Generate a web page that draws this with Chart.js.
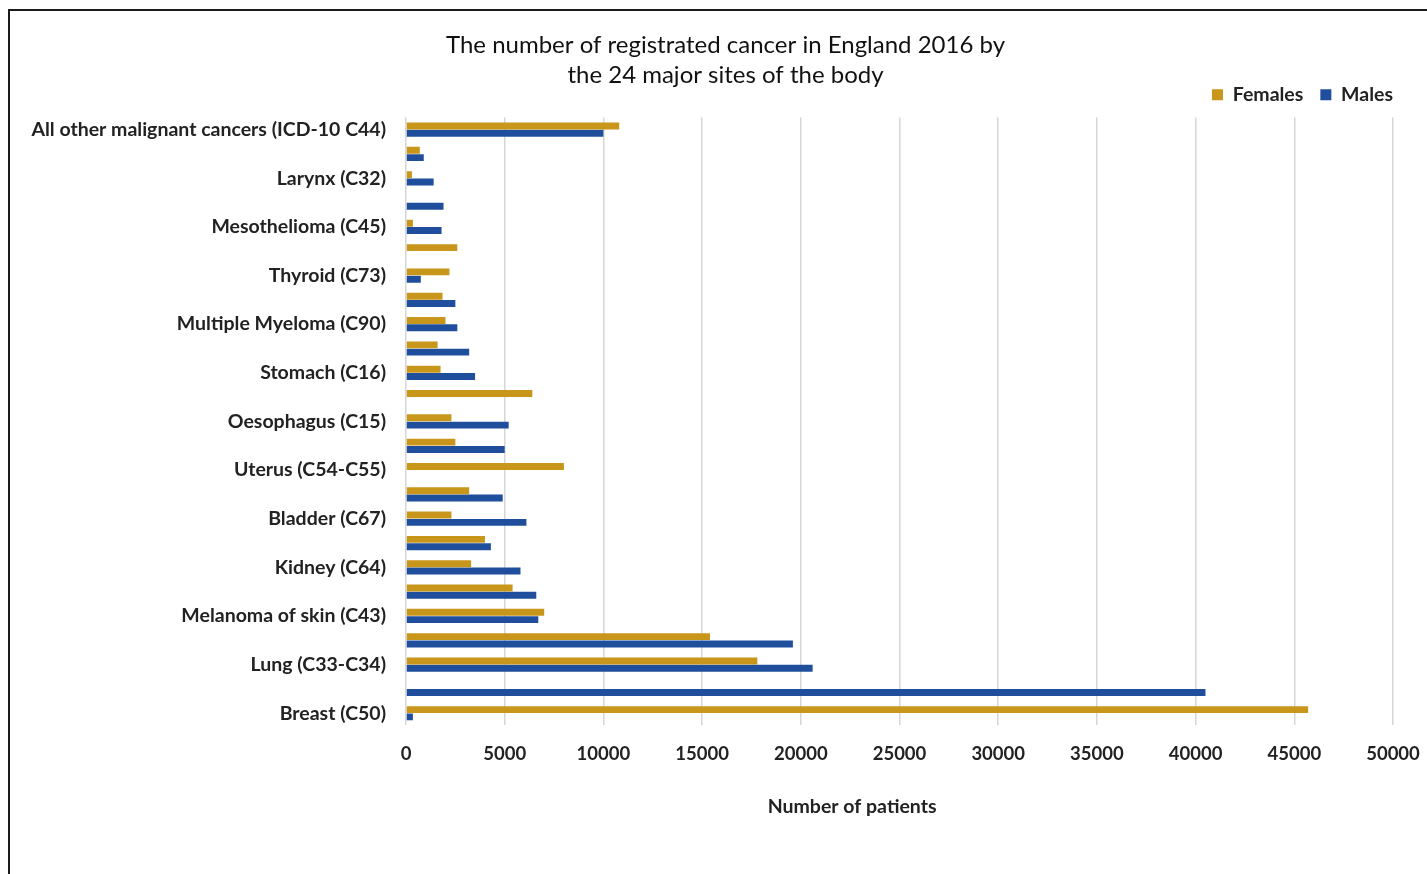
<!DOCTYPE html>
<html>
<head>
<meta charset="utf-8">
<script src="https://cdn.jsdelivr.net/npm/chart.js@4.4.1/dist/chart.umd.min.js"></script>
<style>
  html, body { margin: 0; padding: 0; background: #fff; overflow: hidden; }
  #frame {
    position: absolute; left: 8px; top: 9px; width: 1500px; height: 900px;
    border-top: 2px solid #1a1a1a; border-left: 2px solid #1a1a1a;
  }
  #box { position: absolute; left: 0; top: 0; width: 1417px; height: 863px; }
</style>
</head>
<body>
<div id="frame"><div id="box"><canvas id="cancerChart"></canvas></div></div>
<script>
// categories listed top to bottom, as drawn
var sites = [
  'All other malignant cancers (ICD-10 C44)',
  'Hodgkin lymphoma (C81)',
  'Larynx (C32)',
  'Testis (C62)',
  'Mesothelioma (C45)',
  'Cervix (C53)',
  'Thyroid (C73)',
  'Brain and CNS (C70-C72)',
  'Multiple Myeloma (C90)',
  'Liver (C22)',
  'Stomach (C16)',
  'Ovary (C56)',
  'Oesophagus (C15)',
  'Head and neck (C00-C14)',
  'Uterus (C54-C55)',
  'Leukaemia (C91-C95)',
  'Bladder (C67)',
  'Pancreas (C25)',
  'Kidney (C64)',
  'Non-Hodgkin lymphoma (C82-C86)',
  'Melanoma of skin (C43)',
  'Bowel (C18-C20)',
  'Lung (C33-C34)',
  'Prostate (C61)',
  'Breast (C50)'
];
var females = [10800, 700, 300, 0, 350, 2600, 2200, 1850, 2000, 1600, 1750, 6400, 2300, 2500,
               8000, 3200, 2300, 4000, 3300, 5400, 7000, 15400, 17800, 0, 45700];
var males = [10000, 900, 1400, 1900, 1800, 0, 750, 2500, 2600, 3200, 3500, 0, 5200, 5000,
             0, 4900, 6100, 4300, 5800, 6600, 6700, 19600, 20600, 40500, 350];
var xTicks = [0, 5000, 10000, 15000, 20000, 25000, 30000, 35000, 40000, 45000, 50000];

var gold = '#C8961A';
var blue = '#1F4F9C';
var txt = '#222222';

// nudge title and legend into place, like the original
var headerShift = {
  id: 'headerShift',
  afterLayout: function (chart) {
    var t = chart.titleBlock, l = chart.legend;
    t.left += 9.5; t.right += 9.5;
    t.top -= 3; t.bottom -= 3;
    l.top -= 3; l.bottom -= 3;
  }
};

var ctx = document.getElementById('cancerChart').getContext('2d');
var cancerChart = new Chart(ctx, {
  type: 'bar',
  data: {
    labels: sites,
    datasets: [{
      label: 'Females',
      data: females,
      backgroundColor: gold,
      barPercentage: 0.95,
      categoryPercentage: 0.6
    }, {
      label: 'Males',
      data: males,
      backgroundColor: blue,
      barPercentage: 0.95,
      categoryPercentage: 0.6
    }]
  },
  plugins: [headerShift],
  options: {
    indexAxis: 'y',
    responsive: true,
    maintainAspectRatio: false,
    animation: false,
    layout: { padding: { left: 12, right: 17, top: 0, bottom: 56 } },
    plugins: {
      title: {
        display: true,
        text: ['The number of registrated cancer in England 2016 by', 'the 24 major sites of the body'],
        color: '#111111',
        font: { family: 'Lato', size: 24, weight: 'normal', lineHeight: 1.25 },
        padding: { top: 19, bottom: -22.5 }
      },
      legend: {
        display: true,
        position: 'top',
        align: 'end',
        labels: {
          color: txt,
          font: { family: 'Lato', size: 19.5, weight: 'bold' },
          boxWidth: 11,
          boxHeight: 11,
          padding: 17
        }
      },
      tooltip: { enabled: false }
    },
    scales: {
      x: {
        min: 0,
        max: 50000,
        afterBuildTicks: function (axis) {
          axis.ticks = xTicks.map(function (v) { return { value: v }; });
        },
        afterFit: function (axis) { axis.paddingRight = 34; },
        grid: { color: '#d6d6d6', lineWidth: 1.5, drawTicks: false },
        border: { display: false },
        ticks: {
          color: txt,
          padding: 17.5,
          font: { family: 'Lato', size: 18.5, weight: 'bold' },
          callback: function (v) { return String(v); }
        },
        title: {
          display: true,
          text: 'Number of patients' + '\u00A0'.repeat(20),
          color: txt,
          font: { family: 'Lato', size: 19.5, weight: 'bold' },
          padding: { top: 12, bottom: 0 }
        }
      },
      y: {
        grid: { display: false, drawTicks: false },
        border: { display: false },
        afterFit: function (axis) {
          axis.width = 384;
          axis.paddingTop = 106.5;
        },
        ticks: {
          autoSkip: false,
          color: txt,
          padding: 20,
          font: { family: 'Lato', size: 19.5, weight: 'bold' },
          callback: function (v, i) { return i % 2 === 0 ? this.getLabelForValue(v) : ''; }
        }
      }
    }
  }
});
</script>
</body>
</html>
